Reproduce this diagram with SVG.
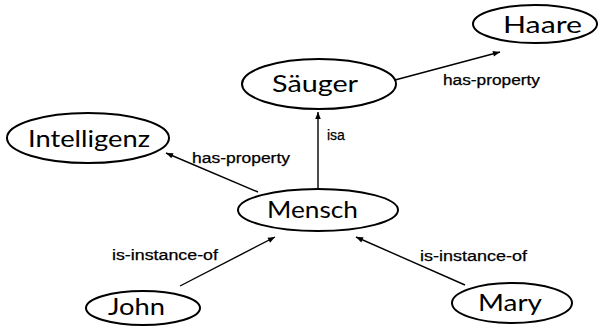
<svg xmlns="http://www.w3.org/2000/svg" width="599" height="327" viewBox="0 0 599 327">
<style>
.node ellipse{fill:none;stroke:#000;stroke-width:2}
.node text{font-family:"Lato","DejaVu Sans",sans-serif;font-weight:400;font-size:24px;fill:#000}
.edge{stroke:#000;stroke-width:1.4;fill:none;marker-end:url(#ah)}
.lbl{font-family:"Liberation Sans",Arial,sans-serif;font-size:14px;fill:#000;stroke:#000;stroke-width:0.25}
</style>
<defs>
<marker id="ah" viewBox="0 0 10 10" refX="10" refY="5" markerWidth="9" markerHeight="7" markerUnits="userSpaceOnUse" orient="auto">
<path d="M0,1 L10,5 L0,9 Z" fill="#000"/>
</marker>
</defs>
<rect width="599" height="327" fill="#fff"/>
<g id="connectors">
<line class="edge" x1="395" y1="80" x2="500" y2="52"/>
<line class="edge" x1="318" y1="188" x2="318" y2="112"/>
<line class="edge" x1="258" y1="192" x2="166" y2="153"/>
<line class="edge" x1="180" y1="286" x2="275" y2="237"/>
<line class="edge" x1="465" y1="285" x2="356" y2="237"/>
<text class="lbl" x="443" y="85" textLength="97" lengthAdjust="spacingAndGlyphs">has-property</text>
<text class="lbl" x="327" y="140">isa</text>
<text class="lbl" x="192" y="163" textLength="98" lengthAdjust="spacingAndGlyphs">has-property</text>
<text class="lbl" x="112" y="260" textLength="106" lengthAdjust="spacingAndGlyphs">is-instance-of</text>
<text class="lbl" x="420" y="261" textLength="107" lengthAdjust="spacingAndGlyphs">is-instance-of</text>
</g>
<g id="node-saeuger" class="node">
<ellipse cx="319" cy="84" rx="77" ry="25"/>
<text x="272" y="92" textLength="86" lengthAdjust="spacingAndGlyphs">Säuger</text>
</g>
<g id="node-haare" class="node">
<ellipse cx="535" cy="24" rx="62" ry="19"/>
<text x="503" y="33" textLength="79" lengthAdjust="spacingAndGlyphs">Haare</text>
</g>
<g id="node-intelligenz" class="node">
<ellipse cx="88" cy="138" rx="81" ry="25"/>
<text x="28" y="147" textLength="122" lengthAdjust="spacingAndGlyphs">Intelligenz</text>
</g>
<g id="node-mensch" class="node">
<ellipse cx="318" cy="210" rx="80" ry="21"/>
<text x="267" y="218" textLength="91" lengthAdjust="spacingAndGlyphs">Mensch</text>
</g>
<g id="node-john" class="node">
<ellipse cx="143" cy="308" rx="57" ry="17"/>
<text x="108" y="315" textLength="57" lengthAdjust="spacingAndGlyphs">John</text>
</g>
<g id="node-mary" class="node">
<ellipse cx="512" cy="303" rx="60" ry="20"/>
<text x="478" y="311" textLength="64" lengthAdjust="spacingAndGlyphs">Mary</text>
</g>
</svg>
